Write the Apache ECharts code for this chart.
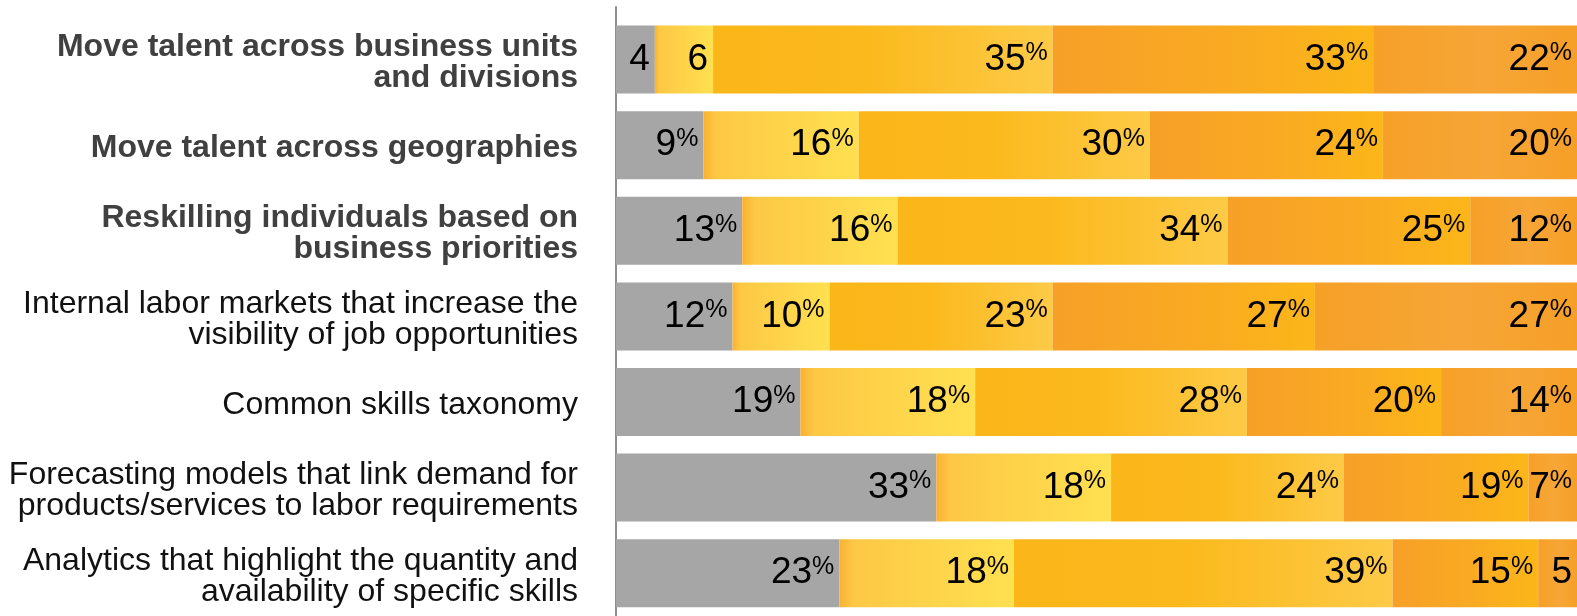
<!DOCTYPE html>
<html>
<head>
<meta charset="utf-8">
<script src="https://cdn.jsdelivr.net/npm/echarts@6/dist/echarts.min.js"></script>
<style>
  html, body { margin: 0; padding: 0; background: #ffffff; }
  #chart { width: 1577px; height: 616px; }
</style>
</head>
<body>
<div id="chart"></div>
<script>
// Initiatives (top to bottom); the first three are emphasised in bold
const categories = [
  'Move talent across business units\nand divisions',
  'Move talent across geographies',
  'Reskilling individuals based on\nbusiness priorities',
  'Internal labor markets that increase the\nvisibility of job opportunities',
  'Common skills taxonomy',
  'Forecasting models that link demand for\nproducts/services to labor requirements',
  'Analytics that highlight the quantity and\navailability of specific skills'
];
const boldRows = [true, true, true, false, false, false, false];

// Share of respondents per response level (%)
const level1 = [4, 9, 13, 12, 19, 33, 23];
const level2 = [6, 16, 16, 10, 18, 18, 18];
const level3 = [35, 30, 34, 23, 28, 24, 39];
const level4 = [33, 24, 25, 27, 20, 19, 15];
const level5 = [22, 20, 12, 27, 14, 7, 5];

const FONT = '"Liberation Sans", Arial, Helvetica, sans-serif';

function hGrad(stops) {
  return new echarts.graphic.LinearGradient(0, 0, 1, 0,
    stops.map(s => ({ offset: s[0], color: s[1] })));
}

const fills = [
  '#A6A6A6',
  hGrad([[0, '#F9B132'], [0.08, '#FDC845'], [1, '#FFE050']]),
  hGrad([[0, '#FBB619'], [0.45, '#FBB91D'], [1, '#FDCA47']]),
  hGrad([[0, '#F7A028'], [0.5, '#F9A923'], [1, '#FCB619']]),
  hGrad([[0, '#F6A027'], [0.55, '#F6A637'], [1, '#F69F28']])
];

// Small segments show just the number; others carry a raised percent sign
function valueLabel(p) {
  return p.value >= 7 ? '{v|' + p.value + '}{p|%}' : '{v|' + p.value + '}';
}

// Category text: bold or regular per row, one rich token per line
function categoryLabel(value, index) {
  const style = boldRows[index] ? 'b' : 'n';
  return value.split('\n').map(line => '{' + style + '|' + line + '}').join('\n');
}

const levels = [level1, level2, level3, level4, level5];
const series = levels.map((vals, i) => ({
  name: 'Level ' + (i + 1),
  type: 'bar',
  stack: 'total',
  barWidth: 68,
  xAxisIndex: 0,
  yAxisIndex: 0,
  data: vals,
  itemStyle: { color: fills[i] },
  label: {
    show: true,
    position: 'insideRight',
    distance: 5,
    formatter: valueLabel,
    rich: {
      v: { fontSize: 37, lineHeight: 37, color: '#000', fontFamily: FONT },
      p: { fontSize: 25, lineHeight: 21, color: '#000', fontFamily: FONT, verticalAlign: 'top' }
    }
  },
  emphasis: { disabled: true }
}));

const chart = echarts.init(document.getElementById('chart'), null, { renderer: 'canvas' });
chart.setOption({
  animation: false,
  backgroundColor: '#ffffff',
  grid: [
    { left: 616, right: 0, top: 16.8, bottom: -5.3, containLabel: false },
    { left: 616, right: 0, top: 7, bottom: 0, containLabel: false }
  ],
  xAxis: [
    { type: 'value', gridIndex: 0, min: 0, max: 99, show: false },
    { type: 'value', gridIndex: 1, min: 0, max: 99, show: false }
  ],
  yAxis: [
    {
      type: 'category',
      gridIndex: 0,
      inverse: true,
      data: categories,
      axisLine: { show: false },
      axisTick: { show: false },
      axisLabel: {
        margin: 38,
        align: 'right',
        formatter: categoryLabel,
        rich: {
          b: { fontSize: 32, lineHeight: 31, fontWeight: 'bold', color: '#404040',
               fontFamily: FONT, padding: [6, 0, 0, 0] },
          n: { fontSize: 32, lineHeight: 31, fontWeight: 'normal', color: '#111111',
               fontFamily: FONT, padding: [6, 0, 0, 0] }
        }
      }
    },
    {
      type: 'category',
      gridIndex: 1,
      data: [''],
      axisLine: { show: true, lineStyle: { color: '#8C8C8C', width: 2 } },
      axisTick: { show: false },
      axisLabel: { show: false }
    }
  ],
  series: series
});
</script>
</body>
</html>
